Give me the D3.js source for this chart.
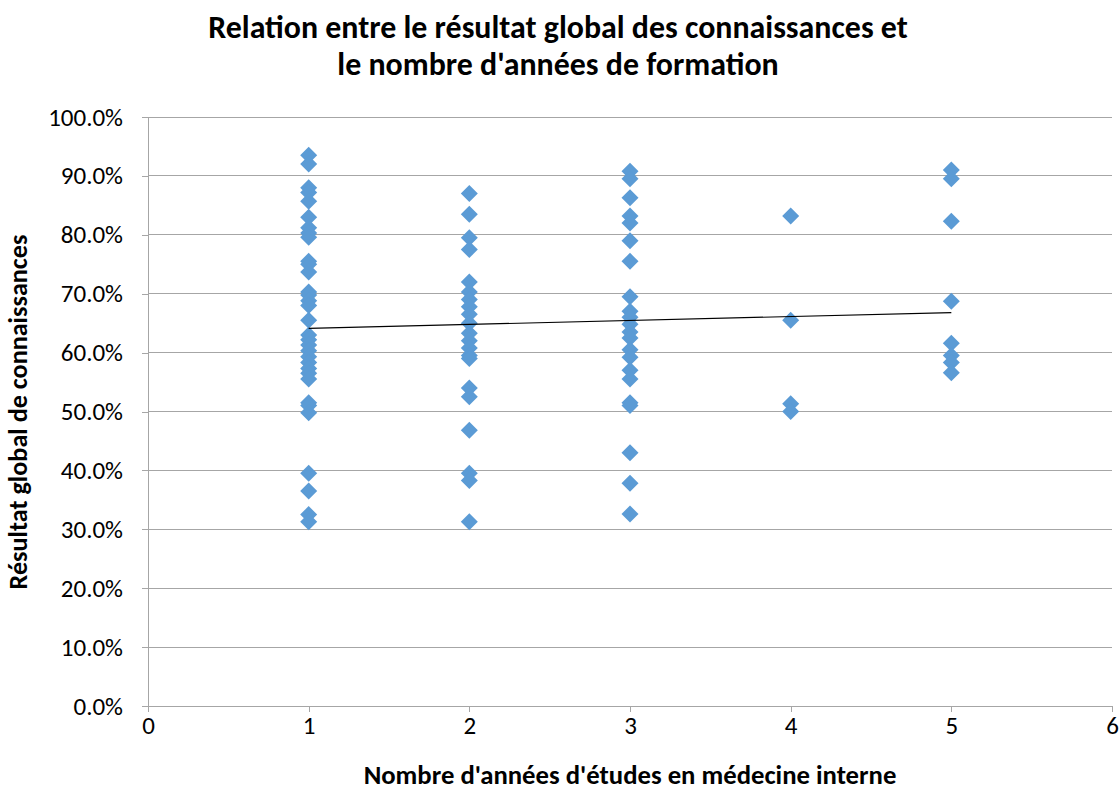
<!DOCTYPE html>
<html><head><meta charset="utf-8">
<script src="https://cdn.jsdelivr.net/npm/d3@7"></script>
<style>body{margin:0;background:#fff}svg{display:block}</style>
</head><body>
<svg id="c" width="1120" height="791"></svg>
<script>
const titleLines = ["Relation entre le résultat global des connaissances et", "le nombre d'années de formation"];
const xTitle = "Nombre d'années d'études en médecine interne";
const yTitle = "Résultat global de connaissances";
const xTicks = [0,1,2,3,4,5,6];
const yTicks = [0,0.1,0.2,0.3,0.4,0.5,0.6,0.7,0.8,0.9,1.0];
const years1 = [93.5,92.0,88.0,87.2,85.7,83.0,81.2,80.3,79.6,75.5,75.0,73.7,70.3,69.8,68.8,68.0,65.5,63.0,62.2,61.3,60.3,59.3,58.3,57.3,56.5,55.5,51.5,51.0,49.8,39.5,36.5,32.5,31.3];
const years2 = [87.0,83.5,79.5,77.5,72.0,70.3,69.0,67.8,66.5,65.0,63.3,62.0,60.8,59.5,59.0,54.0,52.5,46.8,39.5,38.3,31.3];
const years3 = [90.8,89.5,86.3,83.2,82.0,79.0,75.5,69.5,67.0,66.0,64.8,63.5,62.5,60.5,59.2,57.0,55.5,51.5,51.0,43.0,37.8,32.6];
const years4 = [83.2,65.5,51.3,50.0];
const years5 = [91.0,89.5,82.3,68.7,61.6,59.5,58.3,56.6];
const trendX = [1,5];
const trendY = [64.1,66.8];

const groups = [years1,years2,years3,years4,years5];
const points = [];
groups.forEach((g,i)=>g.forEach(v=>points.push({x:i+1,y:v/100})));

const svg = d3.select("#c");
const m = {l:148, r:1112, t:117, b:706};
const x = d3.scaleLinear().domain([0,6]).range([m.l,m.r]);
const y = d3.scaleLinear().domain([0,1]).range([m.b,m.t]);
const font = "Carlito, 'Open Sans', 'Noto Sans', sans-serif";
const grid = "#a6a6a6";

// gridlines
svg.append("g").selectAll("line").data(yTicks.slice(1)).join("line")
  .attr("x1",m.l).attr("x2",m.r).attr("y1",d=>y(d)).attr("y2",d=>y(d))
  .attr("stroke",grid).attr("stroke-width",1).attr("shape-rendering","crispEdges");

// y axis
const ya = svg.append("g").attr("transform",`translate(${m.l},0)`)
  .call(d3.axisLeft(y).tickValues(yTicks).tickFormat(d3.format(".1%")).tickSize(6).tickPadding(19));
// x axis
const xa = svg.append("g").attr("transform",`translate(0,${m.b})`)
  .call(d3.axisBottom(x).tickValues(xTicks).tickFormat(d3.format("d")).tickSize(6).tickPadding(3));
[ya,xa].forEach(a=>{
  a.attr("font-size",null).attr("font-family",null);
  a.select(".domain").attr("stroke",grid).attr("shape-rendering","crispEdges");
  a.selectAll(".tick line").attr("stroke",grid).attr("shape-rendering","crispEdges");
  a.selectAll("text").style("font-family",font).style("font-size","25px").attr("fill","#000");
});
xa.selectAll("text").attr("dy","0.75em");

// points
const r = 8.5;
svg.append("g").selectAll("path").data(points).join("path")
  .attr("d",`M0,${-r}L${r},0L0,${r}L${-r},0Z`)
  .attr("transform",d=>`translate(${x(d.x)},${y(d.y)})`)
  .attr("fill","#5b9bd5");

// trend line
svg.append("line")
  .attr("x1",x(trendX[0])).attr("y1",y(trendY[0]/100))
  .attr("x2",x(trendX[1])).attr("y2",y(trendY[1]/100))
  .attr("stroke","#000").attr("stroke-width",1.2);

// titles
function fit(sel, w){
  const n = sel.node(); const L = n.getComputedTextLength();
  const fs = parseFloat(sel.attr("font-size"));
  sel.attr("font-size", fs*w/L);
}
const t1 = svg.append("text").attr("x",558).attr("y",38).attr("text-anchor","middle")
  .attr("font-family",font).attr("font-weight","bold").attr("font-size",24).text(titleLines[0]);
fit(t1,700);
const t2 = svg.append("text").attr("x",558).attr("y",75).attr("text-anchor","middle")
  .attr("font-family",font).attr("font-weight","bold").attr("font-size",t1.attr("font-size")).text(titleLines[1]);
const xt = svg.append("text").attr("x",630).attr("y",784).attr("text-anchor","middle")
  .attr("font-family",font).attr("font-weight","bold").attr("font-size",18).text(xTitle);
fit(xt,533);
const yt = svg.append("text").attr("transform","translate(27,412) rotate(-90)").attr("text-anchor","middle")
  .attr("font-family",font).attr("font-weight","bold").attr("font-size",18).text(yTitle);
fit(yt,355);
</script>
</body></html>
